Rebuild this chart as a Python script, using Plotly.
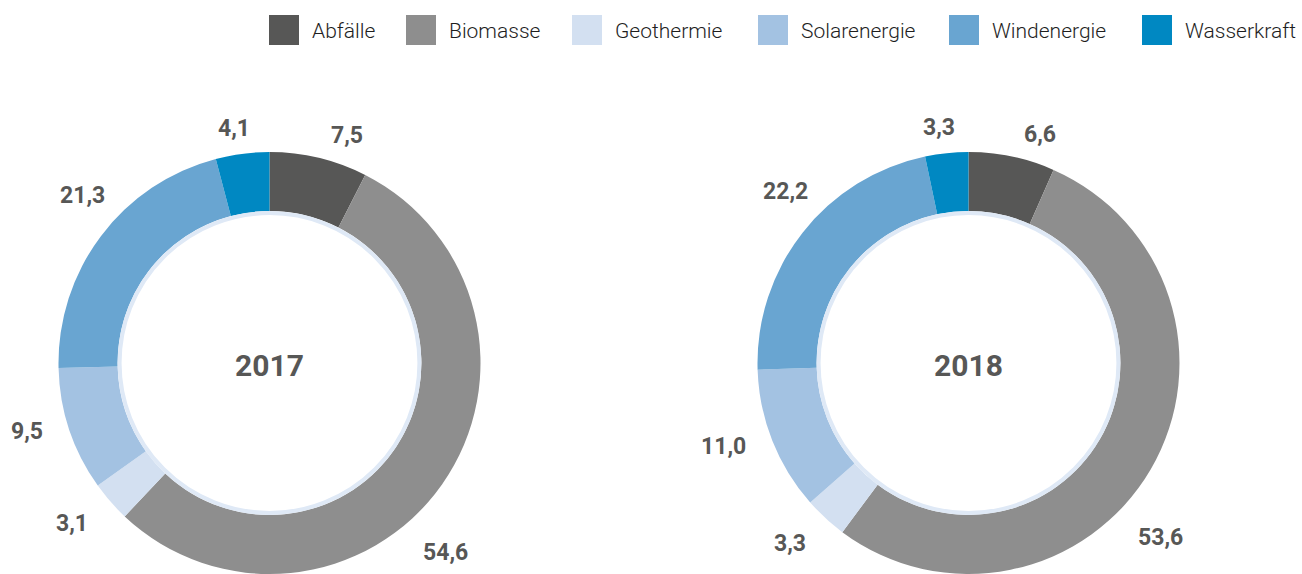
import numpy as np
import plotly.graph_objects as go

# ---------------- data ----------------
categories = ["Abfälle", "Biomasse", "Geothermie", "Solarenergie", "Windenergie", "Wasserkraft"]
years = ["2017", "2018"]
values_2017 = [7.5, 54.6, 3.1, 9.5, 21.3, 4.1]
values_2018 = [6.6, 53.6, 3.3, 11.0, 22.2, 3.3]
series = [values_2017, values_2018]

# ---------------- style ----------------
colors = ["#575756", "#8e8e8e", "#d3e0f1", "#a3c2e2", "#69a5d1", "#0088c2"]
ring_color = "#dfe9f6"
label_color = "#575756"
W, H = 1302, 574
R = 211                      # outer radius (px)
HOLE = 0.72
centers = [(269.5, 363.0), (968.5, 363.0)]   # pie centres (px)
label_fs = 23
label_r0 = 233               # radial distance of label box edge (px)
label_dy = 6                 # vertical offset of label circle centre (px)
label_nudge = [5, 11, 3, 4, 6, -1]   # angular nudge per category (deg)
legend_x = [269, 406, 572, 758, 949, 1142]   # legend square left edges (px)
legend_sq = 30
legend_top = 15
font_main = "Roboto"


def px2x(px):
    return px / W


def px2y(py):
    return 1 - py / H


fig = go.Figure()
annotations = []
shapes = []

for year, vals, (cx, cy) in zip(years, series, centers):
    fig.add_trace(go.Pie(
        labels=categories, values=vals, sort=False, direction="clockwise",
        rotation=0, hole=HOLE, textinfo="none", showlegend=False,
        marker=dict(colors=colors, line=dict(width=0)),
        hovertemplate="%{label}: %{value}<extra>" + year + "</extra>",
        domain=dict(x=[px2x(cx - R), px2x(cx + R)],
                    y=[max(0, px2y(cy + R)), min(1, px2y(cy - R))]),
    ))
    # inner light ring
    rr = R * HOLE - 2
    shapes.append(dict(type="circle", xref="paper", yref="paper",
                       xsizemode="pixel", ysizemode="pixel",
                       xanchor=px2x(cx), yanchor=px2y(cy),
                       x0=-rr, x1=rr, y0=-rr, y1=rr,
                       line=dict(color=ring_color, width=4),
                       fillcolor="rgba(0,0,0,0)", layer="above"))
    # centre year
    annotations.append(dict(x=px2x(cx), y=px2y(cy + 2), xref="paper", yref="paper",
                            text="<b>" + year + "</b>", showarrow=False,
                            font=dict(family=font_main, size=30, color=label_color),
                            xanchor="center", yanchor="middle"))
    # value labels around the ring
    total = float(np.sum(vals))
    cum = np.cumsum(vals)
    lcy = cy + label_dy
    for v, c, nud in zip(vals, cum, label_nudge):
        ang = np.deg2rad((c - v / 2) / total * 360 + nud)
        txt = f"{v:.1f}".replace(".", ",")
        w = (len(txt) - 1) * 0.56 * label_fs + 0.25 * label_fs
        h = 0.72 * label_fs
        ext = (w / 2) * abs(np.sin(ang)) + (h / 2) * abs(np.cos(ang))
        rl = label_r0 + ext
        lx = cx + rl * np.sin(ang)
        ly = lcy - rl * np.cos(ang)
        annotations.append(dict(x=px2x(lx), y=px2y(ly), xref="paper", yref="paper",
                                text="<b>" + txt + "</b>", showarrow=False,
                                font=dict(family=font_main, size=label_fs, color=label_color),
                                xanchor="center", yanchor="middle"))

# manual legend with large squares
for name, col, lx in zip(categories, colors, legend_x):
    shapes.append(dict(type="rect", xref="paper", yref="paper",
                       x0=px2x(lx), x1=px2x(lx + legend_sq),
                       y0=px2y(legend_top + legend_sq), y1=px2y(legend_top),
                       fillcolor=col, line=dict(width=0)))
    annotations.append(dict(x=px2x(lx + legend_sq + 11), y=px2y(legend_top + legend_sq / 2 + 1),
                            xref="paper", yref="paper", text=name, showarrow=False,
                            font=dict(family=font_main, size=21, color="#1e1e1e", weight=300),
                            xanchor="left", yanchor="middle"))

fig.update_layout(
    width=W, height=H, autosize=False,
    margin=dict(l=0, r=0, t=0, b=0),
    paper_bgcolor="white", plot_bgcolor="white",
    shapes=shapes, annotations=annotations,
    font=dict(family=font_main),
)

fig.write_html("out.html", config={"displayModeBar": False},
               post_script="document.body.style.margin='0';document.body.style.overflow='hidden';")
